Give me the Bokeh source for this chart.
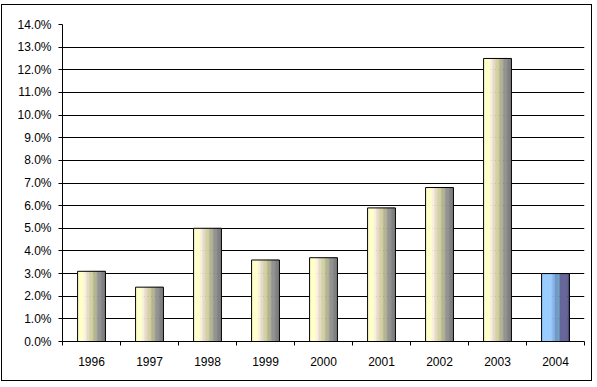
from bokeh.plotting import figure
from bokeh.models import (Range1d, LinearAxis, CategoricalAxis, FixedTicker,
                          PrintfTickFormatter, ColumnDataSource)
from bokeh.transform import dodge
from bokeh.embed import file_html
from bokeh.resources import INLINE

# ---- data ----
years = ["1996", "1997", "1998", "1999", "2000", "2001", "2002", "2003", "2004"]
growth_pct = [3.1, 2.4, 5.0, 3.6, 3.7, 5.9, 6.8, 12.5, 3.0]
y_ticks = list(range(0, 15))
highlight_years = ["2004"]

# ---- styles ----
yellow_colors = ["#FFFFCC", "#F6F1D9", "#EAD8CF", "#D1D1A1", "#B4B492", "#939393", "#808080"]
yellow_fracs = [0.235, 0.094, 0.094, 0.141, 0.141, 0.141, 0.154]
blue_colors = ["#99CCFF", "#8DB4E2", "#6E9AD0", "#6C9CB0", "#666699", "#555588"]
blue_fracs = [0.38, 0.10, 0.12, 0.06, 0.27, 0.07]
BAR_W = 0.48
FONT = "Liberation Sans"

p = figure(x_range=years, y_range=Range1d(0, 14), width=591, height=377,
           output_backend="svg", toolbar_location=None, x_axis_location=None,
           min_border_left=60, min_border_right=9, min_border_top=19,
           min_border_bottom=41)
p.styles = {"border": "1px solid black", "margin": "4px 0 0 1px"}
p.outline_line_color = None
p.background_fill_color = "white"
p.border_fill_color = "white"

# y axis
p.yaxis.ticker = FixedTicker(ticks=y_ticks)
p.yaxis.formatter = PrintfTickFormatter(format="%.1f%%")
p.yaxis.axis_line_color = "black"
p.yaxis.major_tick_line_color = "black"
p.yaxis.major_tick_out = 4
p.yaxis.major_tick_in = 0
p.yaxis.minor_tick_line_color = None
p.yaxis.major_label_text_font = FONT
p.yaxis.major_label_text_font_size = "12px"
p.yaxis.major_label_text_color = "black"
p.yaxis.major_label_standoff = 7

p.ygrid.ticker = FixedTicker(ticks=y_ticks)
p.ygrid.grid_line_color = "black"
p.ygrid.grid_line_width = 1
p.xgrid.visible = False

# x axes: boundary ticks (synthetic coordinates between factors) + labels
bounds = list(range(len(years) + 1))
tick_axis = LinearAxis(ticker=FixedTicker(ticks=bounds),
                       major_label_overrides={b: "" for b in bounds},
                       major_tick_out=4, major_tick_in=0,
                       minor_tick_line_color=None,
                       major_label_text_font_size="1px",
                       major_label_text_color=None,
                       major_label_standoff=0,
                       axis_line_color="black", major_tick_line_color="black")
p.add_layout(tick_axis, "below")
label_axis = CategoricalAxis(axis_line_color=None, major_tick_line_color=None,
                             minor_tick_line_color=None,
                             major_label_text_font=FONT,
                             major_label_text_font_size="12px",
                             major_label_text_color="black",
                             major_label_standoff=5)
p.add_layout(label_axis, "below")


def draw_group(sel_years, colors, fracs):
    vals = [growth_pct[years.index(y)] for y in sel_years]
    src = ColumnDataSource(dict(year=sel_years, value=vals))
    start = -BAR_W / 2
    for c, f in zip(colors, fracs):
        w = f * BAR_W
        p.vbar(x=dodge("year", start + w / 2, range=p.x_range), top="value",
               bottom=0, width=w, source=src, fill_color=c, line_color=c,
               line_width=0.5)
        start += w
    p.vbar(x="year", top="value", bottom=0, width=BAR_W, source=src,
           fill_color=None, line_color="black", line_width=1)


normal_years = [y for y in years if y not in highlight_years]
draw_group(normal_years, yellow_colors, yellow_fracs)
draw_group(highlight_years, blue_colors, blue_fracs)

open("out.html", "w").write(file_html(p, INLINE))
